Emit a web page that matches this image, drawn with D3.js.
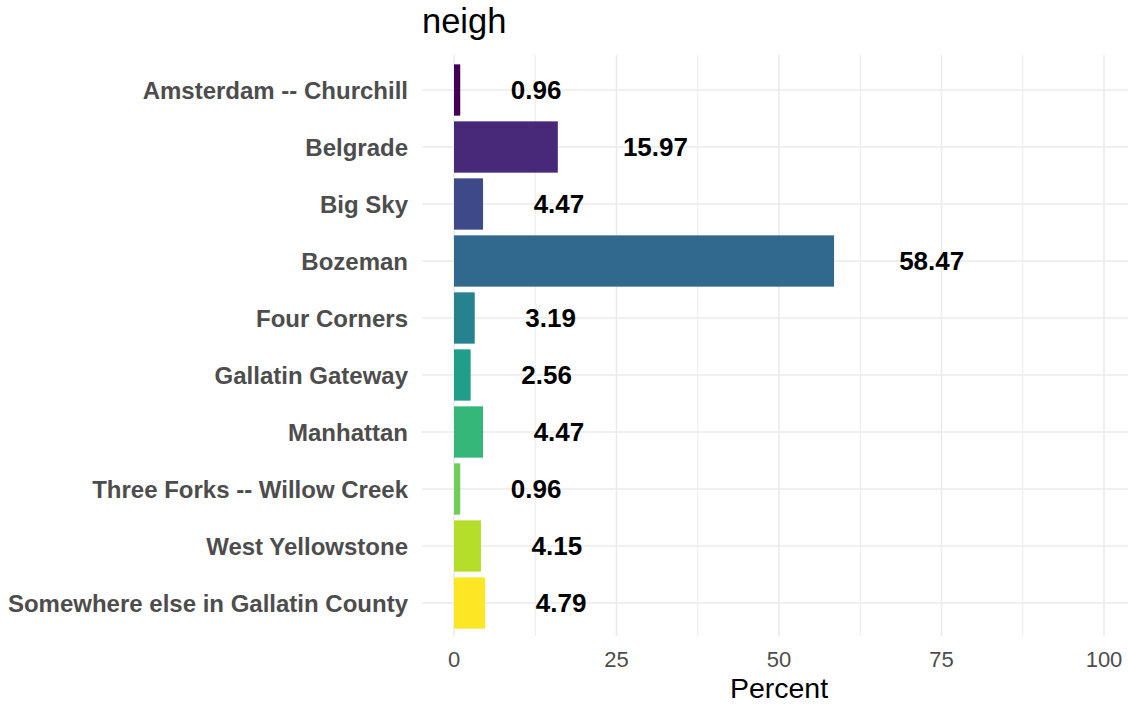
<!DOCTYPE html>
<html><head><meta charset="utf-8">
<script src="https://cdn.jsdelivr.net/npm/d3@7"></script>
<style>body{margin:0;background:#fff}</style>
</head><body>
<svg id="c" width="1128" height="704"></svg>
<script>
const categories = ["Amsterdam -- Churchill","Belgrade","Big Sky","Bozeman","Four Corners","Gallatin Gateway","Manhattan","Three Forks -- Willow Creek","West Yellowstone","Somewhere else in Gallatin County"];
const values = [0.96,15.97,4.47,58.47,3.19,2.56,4.47,0.96,4.15,4.79];
const labels = ["0.96","15.97","4.47","58.47","3.19","2.56","4.47","0.96","4.15","4.79"];
const xTicks = [0,25,50,75,100];
const xMinor = [12.5,37.5,62.5,87.5];

const svg = d3.select("#c");
const font = "Liberation Sans, Arial, sans-serif";
const panel = {left:422, right:1128, top:55, bottom:636};
const x = d3.scaleLinear().domain([0,100]).range([454,1104]);
const step = 57;
const y = d3.scaleBand().domain(categories)
  .range([90 - step/2, 603 + step/2]).paddingInner(0.1).paddingOuter(0.05);
const color = d3.scaleOrdinal().domain(categories)
  .range(categories.map((d,i)=>d3.interpolateViridis(i/(categories.length-1))));

const g = svg.append("g");
// minor grid
g.selectAll(".minor").data(xMinor).join("line")
  .attr("x1",d=>x(d)).attr("x2",d=>x(d)).attr("y1",panel.top).attr("y2",panel.bottom)
  .attr("stroke","#ebebeb").attr("stroke-width",1);
// major grid vertical
g.selectAll(".majx").data(xTicks).join("line")
  .attr("x1",d=>x(d)).attr("x2",d=>x(d)).attr("y1",panel.top).attr("y2",panel.bottom)
  .attr("stroke","#ebebeb").attr("stroke-width",1.6);
// major grid horizontal
g.selectAll(".majy").data(categories).join("line")
  .attr("x1",panel.left).attr("x2",panel.right)
  .attr("y1",d=>y(d)+y.bandwidth()/2).attr("y2",d=>y(d)+y.bandwidth()/2)
  .attr("stroke","#ebebeb").attr("stroke-width",1.6);

// bars
g.selectAll(".bar").data(categories).join("rect")
  .attr("x",x(0)).attr("y",d=>y(d))
  .attr("width",(d,i)=>x(values[i])-x(0)).attr("height",y.bandwidth())
  .attr("fill",d=>color(d));

// value labels (hjust = -1)
g.selectAll(".val").data(categories).join("text")
  .attr("y",d=>y(d)+y.bandwidth()/2).attr("dy","0.36em")
  .attr("font-family",font).attr("font-weight","bold").attr("font-size",26)
  .attr("fill","#000").text((d,i)=>labels[i])
  .each(function(d,i){
    const w = this.getComputedTextLength();
    d3.select(this).attr("x", x(values[i]) + w);
  });

// y axis labels
g.selectAll(".ylab").data(categories).join("text")
  .attr("x",408).attr("y",d=>y(d)+y.bandwidth()/2).attr("dy","0.36em")
  .attr("text-anchor","end").attr("font-family",font).attr("font-weight","bold")
  .attr("font-size",24).attr("fill","#4d4d4d").text(d=>d);

// x ticks
g.selectAll(".xt").data(xTicks).join("text")
  .attr("x",d=>x(d)).attr("y",667).attr("text-anchor","middle")
  .attr("font-family",font).attr("font-size",22).attr("fill","#4d4d4d").text(d=>d);

// x title
svg.append("text").attr("x",(panel.left+panel.right)/2 + 4).attr("y",698)
  .attr("text-anchor","middle").attr("font-family",font).attr("font-size",28.5)
  .attr("fill","#000").text("Percent");
// title
svg.append("text").attr("x",422).attr("y",33)
  .attr("font-family",font).attr("font-size",34.5).attr("fill","#000").text("neigh");
</script>
</body></html>
